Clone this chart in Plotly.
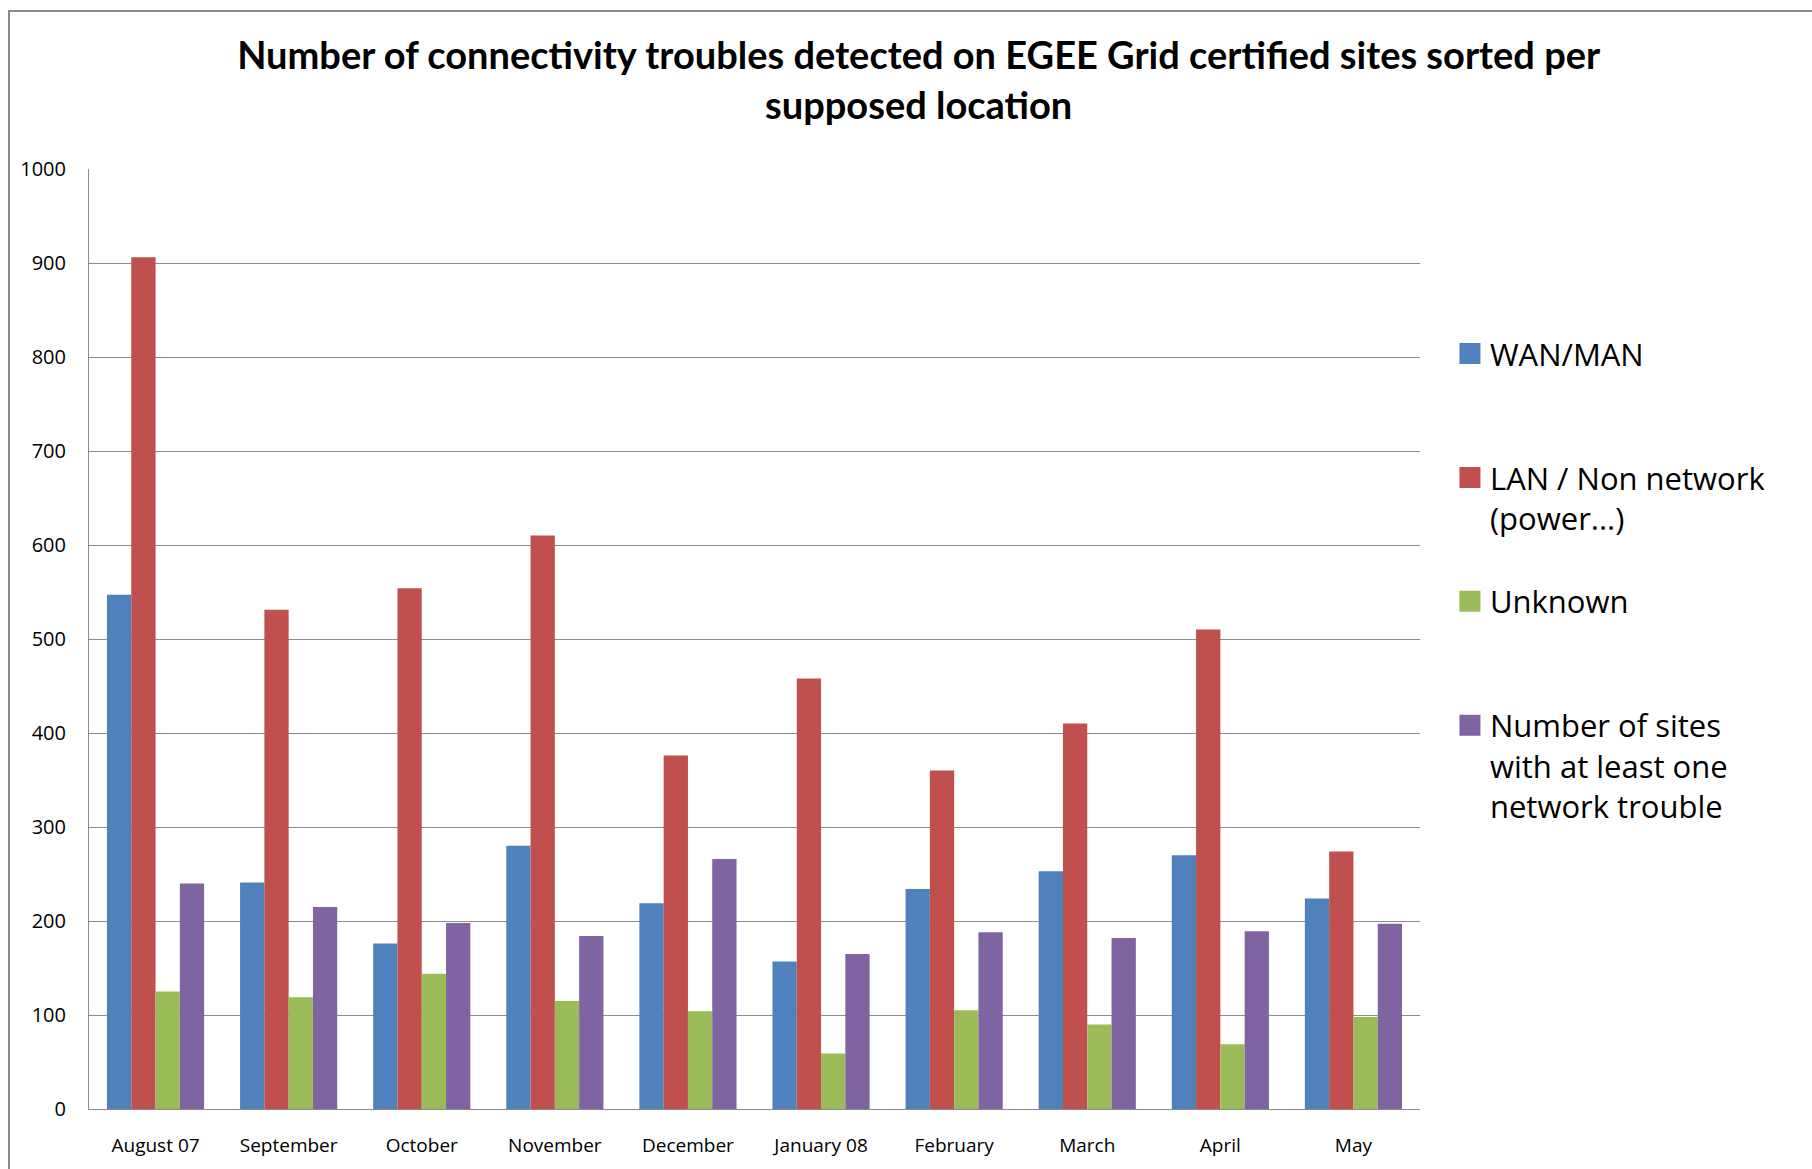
import plotly.graph_objects as go

months = ["August 07", "September", "October", "November", "December",
          "January 08", "February", "March", "April", "May"]
wan_man = [547, 241, 176, 280, 219, 157, 234, 253, 270, 224]
lan_non_network = [906, 531, 554, 610, 376, 458, 360, 410, 510, 274]
unknown = [125, 119, 144, 115, 104, 59, 105, 90, 69, 98]
sites_with_trouble = [240, 215, 198, 184, 266, 165, 188, 182, 189, 197]

series_names = [
    "WAN/MAN<br> <br> ",
    "LAN / Non network<br>(power...)<br> ",
    "Unknown<br> <br> ",
    "Number of sites<br>with at least one<br>network trouble",
]
series_values = [wan_man, lan_non_network, unknown, sites_with_trouble]
colors = ["#4F81BD", "#C0504D", "#9BBB59", "#8064A2"]
y_ticks = list(range(0, 1001, 100))

W, H = 1812, 1169
L, R, T, B = 89, 392, 169, 60

fig = go.Figure()
for i, (name, vals, col) in enumerate(zip(series_names, series_values, colors)):
    fig.add_trace(go.Bar(x=months, y=vals, name=name, legendgroup=f"g{i}",
                         showlegend=False,
                         marker=dict(color=col, line=dict(width=0))))
# legend entries (larger square swatches), linked to the bars
for i, (name, col) in enumerate(zip(series_names, colors)):
    fig.add_trace(go.Scatter(x=[None], y=[None], mode="markers", name=name,
                             legendgroup=f"g{i}", showlegend=True,
                             marker=dict(symbol="square", size=16, color=col,
                                         line=dict(color=col, width=5))))

pw = W - L - R
ph = H - T - B
fig.update_layout(
    width=W, height=H,
    margin=dict(l=L, r=R, t=T, b=B, autoexpand=False),
    paper_bgcolor="white", plot_bgcolor="white",
    barmode="group", bargap=0.27, bargroupgap=0,
    title=dict(
        text="Number of connectivity troubles detected on EGEE Grid certified sites sorted per<br>supposed location",
        x=0.507, xref="container", xanchor="center",
        y=0.9406, yref="container", yanchor="top",
        font=dict(family="Lato", size=38, color="black", weight="bold"),
    ),
    legend=dict(
        x=1.0225, xanchor="left", y=0.832, yanchor="top",
        font=dict(family="Open Sans", size=31, color="black"),
        valign="top", tracegroupgap=0, bgcolor="rgba(0,0,0,0)",
    ),
    showlegend=True,
    shapes=[dict(type="rect", xref="paper", yref="paper",
                 x0=(9 - L) / pw, x1=1.5, y0=-0.3, y1=(H - B - 11) / ph,
                 line=dict(color="#8a8a8a", width=2), fillcolor="rgba(0,0,0,0)",
                 layer="below")],
)
fig.update_yaxes(
    range=[0, 1000], tickvals=y_ticks, showgrid=True, gridcolor="#8c8c8c", gridwidth=1,
    showline=True, linecolor="#8c8c8c", linewidth=1, ticks="", zeroline=False,
    tickfont=dict(family="Open Sans", size=20, color="black"), ticklabelstandoff=18,
    automargin=False,
)
fig.update_xaxes(
    showline=True, linecolor="#8c8c8c", linewidth=1, ticks="", showgrid=False,
    tickfont=dict(family="Open Sans", size=19, color="black"), ticklabelstandoff=19,
    tickangle=0, automargin=False,
)
fig.write_html("out.html", config={"displayModeBar": False},
               post_script="document.body.style.margin='0';")
